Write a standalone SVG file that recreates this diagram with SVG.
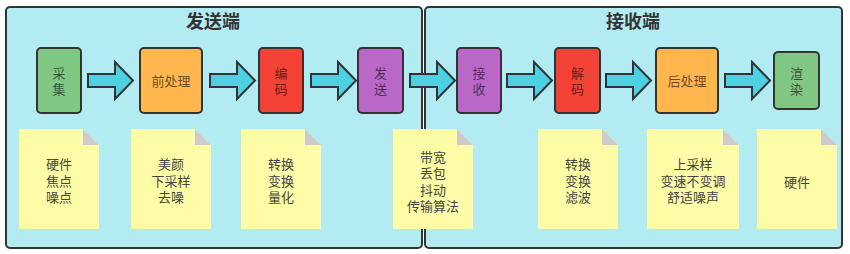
<svg xmlns="http://www.w3.org/2000/svg" width="850" height="254" viewBox="0 0 850 254">
<defs>
<style>
.cont{fill:#B2EBF2;stroke:#333;stroke-width:2}
.title{font-family:"Noto Sans CJK SC","Noto Sans",sans-serif;font-size:18px;font-weight:bold;fill:#333;text-anchor:middle}
.node{stroke:#333;stroke-width:2}
.lbl{font-family:"Noto Sans CJK SC","Noto Sans",sans-serif;font-size:13px;fill:#000;fill-opacity:0.6;text-anchor:middle}
.arrow{fill:#4DD0E1;stroke:#333;stroke-width:2;stroke-linejoin:miter}
.note{fill:#FFFCA8}
.fold{fill:#CCCCCC}
.ntxt{font-family:"Noto Sans CJK SC","Noto Sans",sans-serif;font-size:13px;fill:#444;text-anchor:middle}
</style>
<path id="arr" class="arrow" d="M0,74 H27 V62 L45,80.5 L27,99 V87 H0 Z"/>
</defs>
<rect width="850" height="254" fill="#fff"/>
<g id="sender">
<rect class="cont" x="6" y="7" width="416" height="241" rx="4"/>
<text class="title" x="213" y="28">发送端</text>
</g>
<g id="receiver">
<rect class="cont" x="425" y="7" width="417" height="241" rx="4"/>
<text class="title" x="633" y="28">接收端</text>
</g>
<g id="notes">
<g id="n1"><path class="note" d="M19,129 H83 L99,145 V229 H19 Z"/><path class="fold" d="M83,129 L99,145 H83 Z"/>
<text class="ntxt"><tspan x="59" y="169">硬件</tspan><tspan x="59" y="185.5">焦点</tspan><tspan x="59" y="202">噪点</tspan></text></g>
<g id="n2"><path class="note" d="M131,129 H195 L211,145 V229 H131 Z"/><path class="fold" d="M195,129 L211,145 H195 Z"/>
<text class="ntxt"><tspan x="171" y="169">美颜</tspan><tspan x="171" y="185.5">下采样</tspan><tspan x="171" y="202">去噪</tspan></text></g>
<g id="n3"><path class="note" d="M241,129 H305 L321,145 V229 H241 Z"/><path class="fold" d="M305,129 L321,145 H305 Z"/>
<text class="ntxt"><tspan x="281" y="169">转换</tspan><tspan x="281" y="185.5">变换</tspan><tspan x="281" y="202">量化</tspan></text></g>
<g id="n4"><path class="note" d="M393,129 H457 L473,145 V229 H393 Z"/><path class="fold" d="M457,129 L473,145 H457 Z"/>
<text class="ntxt"><tspan x="433" y="161.5">带宽</tspan><tspan x="433" y="178">丢包</tspan><tspan x="433" y="194.5">抖动</tspan><tspan x="433" y="211">传输算法</tspan></text></g>
<g id="n5"><path class="note" d="M538,129 H602 L618,145 V229 H538 Z"/><path class="fold" d="M602,129 L618,145 H602 Z"/>
<text class="ntxt"><tspan x="578" y="169">转换</tspan><tspan x="578" y="185.5">变换</tspan><tspan x="578" y="202">滤波</tspan></text></g>
<g id="n6"><path class="note" d="M647,129 H723 L739,145 V229 H647 Z"/><path class="fold" d="M723,129 L739,145 H723 Z"/>
<text class="ntxt"><tspan x="693" y="169">上采样</tspan><tspan x="693" y="185.5">变速不变调</tspan><tspan x="693" y="202">舒适噪声</tspan></text></g>
<g id="n7"><path class="note" d="M757,129 H821 L837,145 V229 H757 Z"/><path class="fold" d="M821,129 L837,145 H821 Z"/>
<text class="ntxt"><tspan x="797" y="186.5">硬件</tspan></text></g>
</g>
<g id="connectors">
<use href="#arr" x="88"/>
<use href="#arr" x="210"/>
<use href="#arr" x="311"/>
<use href="#arr" x="410"/>
<use href="#arr" x="507"/>
<use href="#arr" x="606"/>
<use href="#arr" x="725"/>
</g>
<g id="caiji"><rect class="node" x="37" y="48" width="44" height="65" rx="4" fill="#81C784"/><text class="lbl"><tspan x="59" y="78">采</tspan><tspan x="59" y="94">集</tspan></text></g>
<g id="qianchuli"><rect class="node" x="140" y="48" width="62" height="65" rx="4" fill="#FFB74D"/><text class="lbl" x="171" y="85.5">前处理</text></g>
<g id="bianma"><rect class="node" x="259" y="48" width="44" height="65" rx="4" fill="#F44336"/><text class="lbl"><tspan x="281" y="78">编</tspan><tspan x="281" y="94">码</tspan></text></g>
<g id="fasong"><rect class="node" x="358" y="48" width="45" height="65" rx="4" fill="#BA68C8"/><text class="lbl"><tspan x="380.5" y="78">发</tspan><tspan x="380.5" y="94">送</tspan></text></g>
<g id="jieshou"><rect class="node" x="457" y="48" width="44" height="65" rx="4" fill="#BA68C8"/><text class="lbl"><tspan x="479" y="78">接</tspan><tspan x="479" y="94">收</tspan></text></g>
<g id="jiema"><rect class="node" x="555" y="48" width="45" height="65" rx="4" fill="#F44336"/><text class="lbl"><tspan x="577.5" y="78">解</tspan><tspan x="577.5" y="94">码</tspan></text></g>
<g id="houchuli"><rect class="node" x="656" y="48" width="62" height="65" rx="4" fill="#FFB74D"/><text class="lbl" x="687" y="85.5">后处理</text></g>
<g id="xuanran"><rect class="node" x="774" y="52" width="45" height="57" rx="4" fill="#81C784"/><text class="lbl"><tspan x="796.5" y="78">渲</tspan><tspan x="796.5" y="94">染</tspan></text></g>
</svg>
